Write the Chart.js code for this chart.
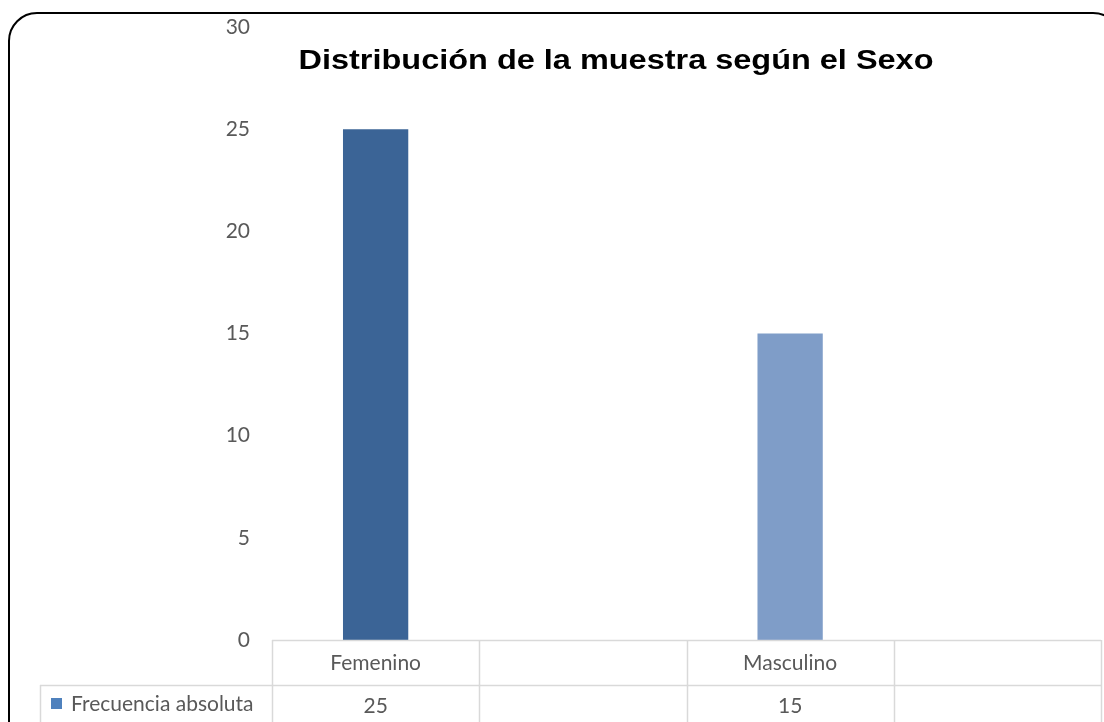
<!DOCTYPE html>
<html>
<head>
<meta charset="utf-8">
<script src="https://cdn.jsdelivr.net/npm/chart.js@4.4.1/dist/chart.umd.min.js"></script>
<style>
html,body{margin:0;padding:0;background:#fff;}
#wrap{position:relative;width:1104px;height:722px;overflow:hidden;}
canvas{display:block;}
</style>
</head>
<body>
<div id="wrap"><canvas id="c" width="1104" height="722"></canvas></div>
<script>
const chartTitle = "Distribución de la muestra según el Sexo";
const categories = ["Femenino", "", "Masculino", ""];
const seriesName = "Frecuencia absoluta";
const values = [25, null, 15, null];
const barColors = ["#3B6496", "#7F9DC8", "#7F9DC8", "#7F9DC8"];
const yTicks = [0, 5, 10, 15, 20, 25, 30];

const tickFont = "21px Lato, 'Open Sans', sans-serif";
const gridColor = "#d9d9d9";
const textColor = "#595959";

const framePlugin = {
  id: 'frame',
  beforeDraw(chart) {
    const ctx = chart.ctx;
    ctx.save();
    ctx.fillStyle = '#fff';
    ctx.fillRect(0, 0, chart.width, chart.height);
    ctx.restore();
  },
  afterDraw(chart) {
    const ctx = chart.ctx;
    const area = chart.chartArea;
    const xs = chart.scales.x;
    ctx.save();
    // outer rounded frame
    ctx.strokeStyle = '#000';
    ctx.lineWidth = 2;
    ctx.beginPath();
    ctx.roundRect(9, 13, 1112, 740, 28);
    ctx.stroke();

    // data table
    const n = categories.length;
    const step = xs.getPixelForTick(1) - xs.getPixelForTick(0);
    const left = xs.getPixelForTick(0) - step / 2;
    const top = area.bottom;
    const row1 = top + 45;
    const bottomY = 740;
    const legendLeft = 40;
    ctx.strokeStyle = gridColor;
    ctx.lineWidth = 1.5;
    ctx.beginPath();
    ctx.moveTo(left, top + 0.5); ctx.lineTo(left + step * n, top + 0.5);
    ctx.moveTo(legendLeft, row1 + 0.5); ctx.lineTo(left + step * n, row1 + 0.5);
    ctx.moveTo(legendLeft + 0.5, row1); ctx.lineTo(legendLeft + 0.5, bottomY);
    for (let i = 0; i <= n; i++) {
      const x = Math.round(left + step * i) + 0.5;
      ctx.moveTo(x, top); ctx.lineTo(x, bottomY);
    }
    ctx.stroke();

    ctx.fillStyle = textColor;
    ctx.font = tickFont;
    ctx.textAlign = 'center';
    ctx.textBaseline = 'middle';
    for (let i = 0; i < n; i++) {
      const cx = xs.getPixelForTick(i);
      ctx.fillText(categories[i], cx, top + 23);
      if (values[i] !== null) ctx.fillText(String(values[i]), cx, row1 + 21);
    }
    // legend key
    ctx.fillStyle = '#4F81BD';
    ctx.fillRect(51, row1 + 13, 11, 11);
    ctx.fillStyle = textColor;
    ctx.textAlign = 'left';
    ctx.fillText(seriesName, 71, row1 + 19);

    // title
    ctx.fillStyle = '#000';
    ctx.font = "bold 27px 'Liberation Sans', Arial, sans-serif";
    ctx.textAlign = 'center';
    ctx.textBaseline = 'middle';
    const w = ctx.measureText(chartTitle).width;
    const sx = 635 / w;
    ctx.translate(616, 62);
    ctx.scale(sx, 1);
    ctx.fillText(chartTitle, 0, 0);
    ctx.restore();
  }
};

new Chart(document.getElementById('c'), {
  type: 'bar',
  data: {
    labels: categories,
    datasets: [{
      label: seriesName,
      data: values,
      backgroundColor: barColors,
      borderWidth: 0,
      categoryPercentage: 1.0,
      barPercentage: 0.315
    }]
  },
  options: {
    responsive: false,
    animation: false,
    devicePixelRatio: 1,
    layout: { padding: { left: 0, top: 27, right: 3, bottom: 82 } },
    plugins: {
      legend: { display: false },
      title: { display: false },
      tooltip: { enabled: false }
    },
    scales: {
      x: {
        display: false,
        grid: { display: false }
      },
      y: {
        min: 0,
        max: 30,
        afterFit(scale) { scale.width = 272; scale.paddingTop = 0; scale.paddingBottom = 0; },
        afterBuildTicks(scale) { scale.ticks = yTicks.map(v => ({ value: v })); },
        grid: { display: false, drawTicks: false },
        border: { display: false },
        ticks: {
          padding: 22,
          color: textColor,
          font: { family: "Lato, 'Open Sans', sans-serif", size: 21 }
        }
      }
    }
  },
  plugins: [framePlugin]
});
</script>
</body>
</html>
